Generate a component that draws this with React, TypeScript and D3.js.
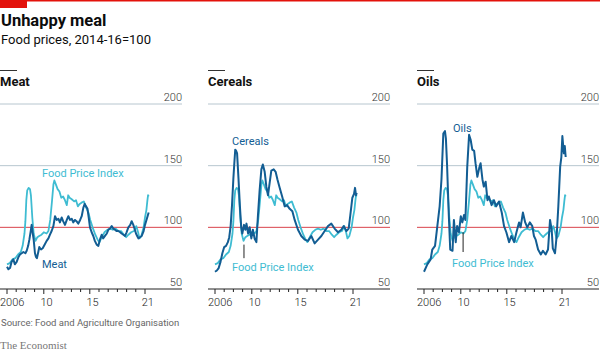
import * as d3 from 'd3'

type Pt = [number, number]

// Food Price Index, shown in every panel (year, index 2014-16=100)
const foodPriceIndex: Pt[] = [
  [2006.0, 70], [2006.3, 71], [2006.6, 74], [2006.9, 75], [2007.2, 78], [2007.5, 80],
  [2007.7, 85], [2007.9, 95], [2008.0, 105], [2008.1, 122], [2008.2, 130], [2008.35, 132],
  [2008.5, 131], [2008.6, 126], [2008.75, 108], [2008.9, 95], [2009.1, 89], [2009.3, 92],
  [2009.5, 93], [2009.75, 94], [2010.0, 96], [2010.3, 95], [2010.5, 97], [2010.7, 106],
  [2010.9, 122], [2011.05, 135], [2011.15, 138], [2011.3, 135], [2011.5, 131], [2011.7, 129],
  [2011.9, 124], [2012.1, 125], [2012.3, 122], [2012.5, 118], [2012.65, 126], [2012.8, 124],
  [2013.0, 123], [2013.3, 121], [2013.5, 122], [2013.7, 117], [2013.9, 119], [2014.1, 120],
  [2014.35, 121], [2014.6, 116], [2014.85, 112], [2015.05, 106], [2015.3, 100], [2015.6, 94],
  [2015.85, 90], [2016.05, 88], [2016.3, 92], [2016.6, 96], [2016.9, 98], [2017.2, 99],
  [2017.5, 98], [2017.8, 99], [2018.1, 97], [2018.4, 97], [2018.7, 94], [2018.95, 92],
  [2019.2, 94], [2019.5, 96], [2019.8, 97], [2020.05, 101], [2020.25, 96], [2020.4, 91],
  [2020.6, 93], [2020.85, 100], [2021.0, 108], [2021.15, 114], [2021.25, 121], [2021.33, 126],
  [2021.4, 125],
]

const meat: Pt[] = [
  [2006.0, 68], [2006.15, 66], [2006.33, 67], [2006.5, 72], [2006.69, 74], [2006.85, 70],
  [2007.05, 72], [2007.25, 76], [2007.41, 78], [2007.6, 79], [2007.78, 80], [2008.0, 79],
  [2008.14, 81], [2008.3, 85], [2008.43, 90], [2008.6, 98], [2008.68, 102], [2008.8, 95],
  [2008.9, 90], [2009.04, 79], [2009.15, 76], [2009.25, 75], [2009.4, 80], [2009.51, 84],
  [2009.7, 82], [2009.88, 83], [2010.1, 86], [2010.31, 89], [2010.5, 91], [2010.67, 94],
  [2010.85, 97], [2011.04, 101], [2011.22, 109], [2011.4, 106], [2011.58, 107], [2011.75, 104],
  [2011.94, 108], [2012.1, 105], [2012.3, 102], [2012.5, 106], [2012.67, 109], [2012.85, 106],
  [2013.03, 107], [2013.2, 104], [2013.39, 106], [2013.55, 105], [2013.75, 103], [2013.95, 106],
  [2014.12, 109], [2014.3, 116], [2014.45, 119], [2014.59, 117], [2014.75, 115], [2014.88, 108],
  [2015.02, 100], [2015.2, 96], [2015.38, 93], [2015.55, 89], [2015.75, 86], [2015.93, 85],
  [2016.1, 90], [2016.29, 94], [2016.45, 91], [2016.65, 93], [2016.85, 95], [2017.01, 98],
  [2017.2, 99], [2017.38, 101], [2017.55, 99], [2017.74, 98], [2017.9, 97], [2018.1, 97],
  [2018.3, 96], [2018.46, 95], [2018.65, 94], [2018.83, 93], [2019.0, 96], [2019.19, 100],
  [2019.4, 102], [2019.55, 105], [2019.73, 102], [2019.9, 98], [2020.02, 95], [2020.15, 93],
  [2020.28, 91], [2020.45, 92], [2020.64, 93], [2020.85, 97], [2021.0, 102], [2021.2, 107],
  [2021.4, 112],
]

const cereals: Pt[] = [
  [2006.0, 64], [2006.2, 65], [2006.4, 67], [2006.6, 72], [2006.8, 79], [2007.0, 84],
  [2007.2, 85], [2007.4, 88], [2007.55, 92], [2007.7, 101], [2007.85, 118], [2008.0, 140],
  [2008.1, 152], [2008.2, 163], [2008.3, 162], [2008.4, 160], [2008.55, 140], [2008.7, 118],
  [2008.85, 100], [2008.97, 95], [2009.15, 102], [2009.3, 98], [2009.42, 103], [2009.6, 95],
  [2009.77, 100], [2009.95, 91], [2010.12, 98], [2010.3, 91], [2010.5, 88], [2010.67, 110],
  [2010.85, 130], [2011.04, 147], [2011.2, 151], [2011.4, 145], [2011.58, 133], [2011.76, 126],
  [2011.94, 136], [2012.12, 146], [2012.38, 147], [2012.59, 145], [2012.78, 139], [2013.03, 132],
  [2013.3, 125], [2013.57, 117], [2013.83, 118], [2014.12, 115], [2014.41, 113], [2014.66, 106],
  [2015.02, 98], [2015.38, 93], [2015.75, 90], [2016.11, 89], [2016.47, 93], [2016.83, 87],
  [2017.2, 90], [2017.56, 93], [2017.92, 97], [2018.28, 101], [2018.64, 103], [2019.0, 99],
  [2019.37, 96], [2019.73, 98], [2019.99, 101], [2020.28, 97], [2020.53, 99], [2020.71, 110],
  [2020.93, 124], [2021.11, 127], [2021.22, 132], [2021.33, 126], [2021.4, 128],
]

const oils: Pt[] = [
  [2006.0, 64], [2006.36, 70], [2006.72, 74], [2006.9, 82], [2007.2, 85], [2007.45, 101],
  [2007.7, 117], [2007.9, 139], [2008.1, 176], [2008.28, 178], [2008.38, 172], [2008.5, 152],
  [2008.7, 109], [2008.85, 82], [2009.1, 81], [2009.25, 106], [2009.45, 88], [2009.6, 101],
  [2009.8, 96], [2010.0, 109], [2010.17, 104], [2010.35, 110], [2010.5, 106], [2010.7, 149],
  [2010.9, 175], [2011.07, 171], [2011.25, 163], [2011.45, 162], [2011.6, 152], [2011.8, 141],
  [2012.0, 148], [2012.15, 152], [2012.35, 139], [2012.5, 133], [2012.7, 137], [2012.9, 122],
  [2013.05, 125], [2013.35, 118], [2013.6, 122], [2013.85, 117], [2014.15, 121], [2014.45, 112],
  [2014.7, 101], [2014.95, 96], [2015.25, 88], [2015.5, 93], [2015.8, 88], [2016.05, 96],
  [2016.33, 104], [2016.5, 100], [2016.75, 112], [2017.0, 104], [2017.23, 100], [2017.5, 104],
  [2017.77, 101], [2017.95, 93], [2018.14, 90], [2018.4, 82], [2018.7, 78], [2018.93, 81],
  [2019.22, 78], [2019.48, 82], [2019.7, 106], [2019.88, 98], [2020.0, 83], [2020.24, 79],
  [2020.42, 93], [2020.6, 117], [2020.8, 149], [2020.93, 157], [2021.04, 174], [2021.2, 160],
  [2021.3, 166], [2021.4, 157],
]

const panelTitles = ['Meat', 'Cereals', 'Oils']
const panelSeries = [meat, cereals, oils]
const gridValues = [200, 150, 100, 50]
const tickYears = d3.range(2006, 2022)
const labelYears = [2006, 2010, 2015, 2021]
const yearLabels = ['2006', '10', '15', '21']

// annotation anchors in data units: [year, value]
const seriesLabelAt: Pt[] = [[2009.8, 67], [2007.85, 166.8], [2009.15, 177]]
const fpiLabelAt: Pt[] = [[2009.8, 140.8], [2007.85, 64.6], [2009.05, 67.8]]
const leaders: ([number, number, number] | null)[] = [null, [2009.15, 86, 75], [2010.25, 96, 80]]

const dark = '#125d93'
const cyan = '#3ebcd2'
const sans = 'Roboto, "Open Sans", sans-serif'

const W = 600
const H = 353
const panelLeft = [0, 208, 417]
const panelWidth = 182

const y = d3.scaleLinear().domain([50, 200]).range([289, 104])

function Panel({ i }: { i: number }) {
  const left = panelLeft[i]
  const x = d3.scaleLinear().domain([2006, 2022]).range([left + 7, left + 7 + 16 * 9.2])
  const line = d3.line<Pt>().x((d) => x(d[0])).y((d) => y(d[1]))
  const lead = leaders[i]
  return (
    <g>
      <line x1={left} x2={left + 17} y1={70.5} y2={70.5} stroke="#333" strokeWidth={1} />
      <text x={left} y={86} fontFamily={sans} fontWeight={700} fontSize={13} fill="#111">{panelTitles[i]}</text>
      {gridValues.map((v) => (
        <g key={v}>
          <line
            x1={left} x2={left + panelWidth} y1={y(v)} y2={y(v)}
            stroke={v === 100 ? '#d9434b' : v === 50 ? '#222' : '#b7c6cf'}
            strokeWidth={1}
          />
          <text x={left + panelWidth} y={y(v) - 3} textAnchor="end" fontFamily={sans} fontWeight={300} fontSize={11} fill="#333">{v}</text>
        </g>
      ))}
      {tickYears.map((yr) => (
        <line key={yr} x1={x(yr)} x2={x(yr)} y1={y(50)} y2={y(50) + (labelYears.includes(yr) ? 5 : 3)} stroke="#222" strokeWidth={1} />
      ))}
      {labelYears.map((yr, k) => (
        <text
          key={yr}
          x={k === 0 ? left : x(yr + 0.3)}
          y={306}
          textAnchor={k === 0 ? 'start' : 'middle'}
          fontFamily={sans} fontWeight={300} fontSize={11} fill="#222"
        >{yearLabels[k]}</text>
      ))}
      <path d={line(foodPriceIndex) ?? ''} fill="none" stroke={cyan} strokeWidth={1.8} strokeLinejoin="round" />
      <path d={line(panelSeries[i]) ?? ''} fill="none" stroke={dark} strokeWidth={2} strokeLinejoin="round" />
      {lead && (
        <line x1={x(lead[0])} x2={x(lead[0])} y1={y(lead[1])} y2={y(lead[2])} stroke="#222" strokeWidth={1} />
      )}
      <text x={x(seriesLabelAt[i][0])} y={y(seriesLabelAt[i][1])} fontFamily={sans} fontSize={11} fill={dark}>{panelTitles[i]}</text>
      <text x={x(fpiLabelAt[i][0])} y={y(fpiLabelAt[i][1])} fontFamily={sans} fontSize={11} fill={cyan}>Food Price Index</text>
    </g>
  )
}

export default function App() {
  return (
    <div style={{ position: 'absolute', left: 0, top: 0 }}>
      <svg width={W} height={H} style={{ display: 'block', background: '#fff' }}>
        <rect x={0} y={0} width={W} height={1.5} fill="#e3120b" />
        <rect x={0} y={0} width={27} height={8} fill="#e3120b" />
        <text x={1} y={26} fontFamily={sans} fontWeight={700} fontSize={16.5} fill="#0c0c0c">Unhappy meal</text>
        <text x={1} y={44} fontFamily={sans} fontSize={13} fill="#0c0c0c">Food prices, 2014-16=100</text>
        {[0, 1, 2].map((i) => <Panel key={i} i={i} />)}
        <text x={1} y={326} fontFamily={sans} fontSize={9.5} fill="#666">Source: Food and Agriculture Organisation</text>
        <text x={0} y={349} fontFamily='"Liberation Serif", "DejaVu Serif", serif' fontSize={11} fill="#777">The Economist</text>
      </svg>
    </div>
  )
}
